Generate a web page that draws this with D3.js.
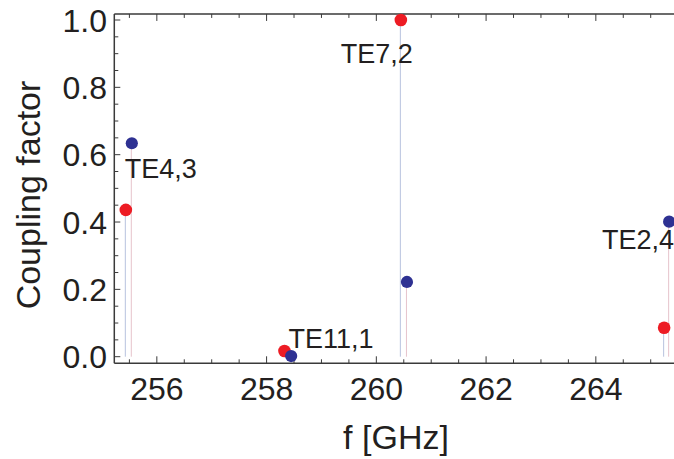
<!DOCTYPE html>
<html>
<head>
<meta charset="utf-8">
<script src="https://cdn.jsdelivr.net/npm/d3@7"></script>
<style>
  body { margin: 0; background: #fff; }
  text { font-family: "Liberation Sans", Arial, sans-serif; fill: #231f20; }
</style>
</head>
<body>
<script>
// Chart data
var modes = ["TE4,3", "TE11,1", "TE7,2", "TE2,4"];
var redFreq = [255.435, 258.326, 260.447, 265.245];
var redCoupling = [0.436, 0.017, 1.0, 0.086];
var blueFreq = [255.544, 258.448, 260.558, 265.336];
var blueCoupling = [0.634, 0.002, 0.222, 0.401];
var xTickValues = [256, 258, 260, 262, 264];
var yTickValues = [0.0, 0.2, 0.4, 0.6, 0.8, 1.0];

var svgWidth = 674;
var svgHeight = 459;

var svg = d3.select("body")
  .append("svg")
  .attr("width", svgWidth)
  .attr("height", svgHeight);

// scales
var xScale = d3.scaleLinear()
  .domain([255.225, 265.45])
  .range([114.3, 675.4]);

var yScale = d3.scaleLinear()
  .domain([0, 1])
  .range([356.7, 20]);

var frameTop = yScale(1.018);
var frameBottom = yScale(-0.0196);
var frameLeft = xScale(255.225);
var frameRight = xScale(265.45);

var axisColor = "#3a3a3a";

// frame lines
svg.append("line")
  .attr("x1", frameLeft).attr("x2", frameRight)
  .attr("y1", frameBottom).attr("y2", frameBottom)
  .attr("stroke", axisColor).attr("stroke-width", 1.5);
svg.append("line")
  .attr("x1", frameLeft).attr("x2", frameRight)
  .attr("y1", frameTop).attr("y2", frameTop)
  .attr("stroke", axisColor).attr("stroke-width", 1.5);
svg.append("line")
  .attr("x1", frameLeft).attr("x2", frameLeft)
  .attr("y1", frameTop).attr("y2", frameBottom)
  .attr("stroke", axisColor).attr("stroke-width", 1.5);

// x ticks, major every 2 and minor every 0.5, on bottom and top edge
var xMinor = d3.range(255.5, 265.5, 0.5);
xMinor.forEach(function(v) {
  var major = xTickValues.indexOf(v) >= 0;
  var len = major ? 7 : 4;
  svg.append("line")
    .attr("x1", xScale(v)).attr("x2", xScale(v))
    .attr("y1", frameBottom).attr("y2", frameBottom - len)
    .attr("stroke", axisColor).attr("stroke-width", 1);
  svg.append("line")
    .attr("x1", xScale(v)).attr("x2", xScale(v))
    .attr("y1", frameTop).attr("y2", frameTop + len)
    .attr("stroke", axisColor).attr("stroke-width", 1);
});

// y ticks, major every 0.2 and minor every 0.05
var yMinor = d3.range(0, 1.001, 0.05);
yMinor.forEach(function(v) {
  var major = Math.abs(v * 5 - Math.round(v * 5)) < 1e-6;
  var len = major ? 6 : 4;
  svg.append("line")
    .attr("x1", frameLeft).attr("x2", frameLeft + len)
    .attr("y1", yScale(v)).attr("y2", yScale(v))
    .attr("stroke", axisColor).attr("stroke-width", 1);
});

// tick labels
svg.selectAll(".xlabel")
  .data(xTickValues)
  .enter()
  .append("text")
  .attr("x", d => xScale(d))
  .attr("y", 400)
  .attr("text-anchor", "middle")
  .style("font-size", "32px")
  .text(d => d);

svg.selectAll(".ylabel")
  .data(yTickValues)
  .enter()
  .append("text")
  .attr("x", 107)
  .attr("y", d => yScale(d) + 11.5)
  .attr("text-anchor", "end")
  .style("font-size", "32px")
  .text(d => d3.format(".1f")(d));

// axis titles
svg.append("text")
  .attr("x", 396)
  .attr("y", 449)
  .attr("text-anchor", "middle")
  .style("font-size", "34px")
  .text("f [GHz]");

svg.append("text")
  .attr("transform", "translate(40, 195) rotate(-90)")
  .attr("text-anchor", "middle")
  .style("font-size", "34px")
  .text("Coupling factor");

// stems: red points have blue-grey stems, blue points have pink stems
var redPoints = modes.map((m, i) => ({ mode: m, f: redFreq[i], c: redCoupling[i] }));
var bluePoints = modes.map((m, i) => ({ mode: m, f: blueFreq[i], c: blueCoupling[i] }));

svg.selectAll(".redstem")
  .data(redPoints)
  .enter()
  .append("line")
  .attr("x1", d => xScale(d.f) - 0.5).attr("x2", d => xScale(d.f) - 0.5)
  .attr("y1", d => yScale(d.c)).attr("y2", yScale(0))
  .attr("stroke", "#b7c2de").attr("stroke-width", 1);

svg.selectAll(".bluestem")
  .data(bluePoints)
  .enter()
  .append("line")
  .attr("x1", d => xScale(d.f) - 0.5).attr("x2", d => xScale(d.f) - 0.5)
  .attr("y1", d => yScale(d.c)).attr("y2", yScale(0))
  .attr("stroke", "#e6c3cb").attr("stroke-width", 1);

// points
svg.selectAll(".reddot")
  .data(redPoints)
  .enter()
  .append("circle")
  .attr("cx", d => xScale(d.f))
  .attr("cy", d => yScale(d.c))
  .attr("r", 6.3)
  .attr("fill", "#ed1c24");

svg.selectAll(".bluedot")
  .data(bluePoints)
  .enter()
  .append("circle")
  .attr("cx", d => xScale(d.f))
  .attr("cy", d => yScale(d.c))
  .attr("r", 6.1)
  .attr("fill", "#2e3192");

// mode labels, placed next to their pair of points
var labelLayout = {
  "TE4,3": { dx: -7, dy: 35, anchor: "start", ref: "blue" },
  "TE11,1": { dx: 4, dy: -3, anchor: "start", ref: "red" },
  "TE7,2": { dx: 12, dy: 43, anchor: "end", ref: "red" },
  "TE2,4": { dx: 5, dy: 27, anchor: "end", ref: "blue" }
};

modes.forEach(function(m, i) {
  var lay = labelLayout[m];
  var px = lay.ref === "red" ? xScale(redFreq[i]) : xScale(blueFreq[i]);
  var py = lay.ref === "red" ? yScale(redCoupling[i]) : yScale(blueCoupling[i]);
  svg.append("text")
    .attr("x", px + lay.dx)
    .attr("y", py + lay.dy)
    .attr("text-anchor", lay.anchor)
    .style("font-size", "27px")
    .text(m);
});
</script>
</body>
</html>
